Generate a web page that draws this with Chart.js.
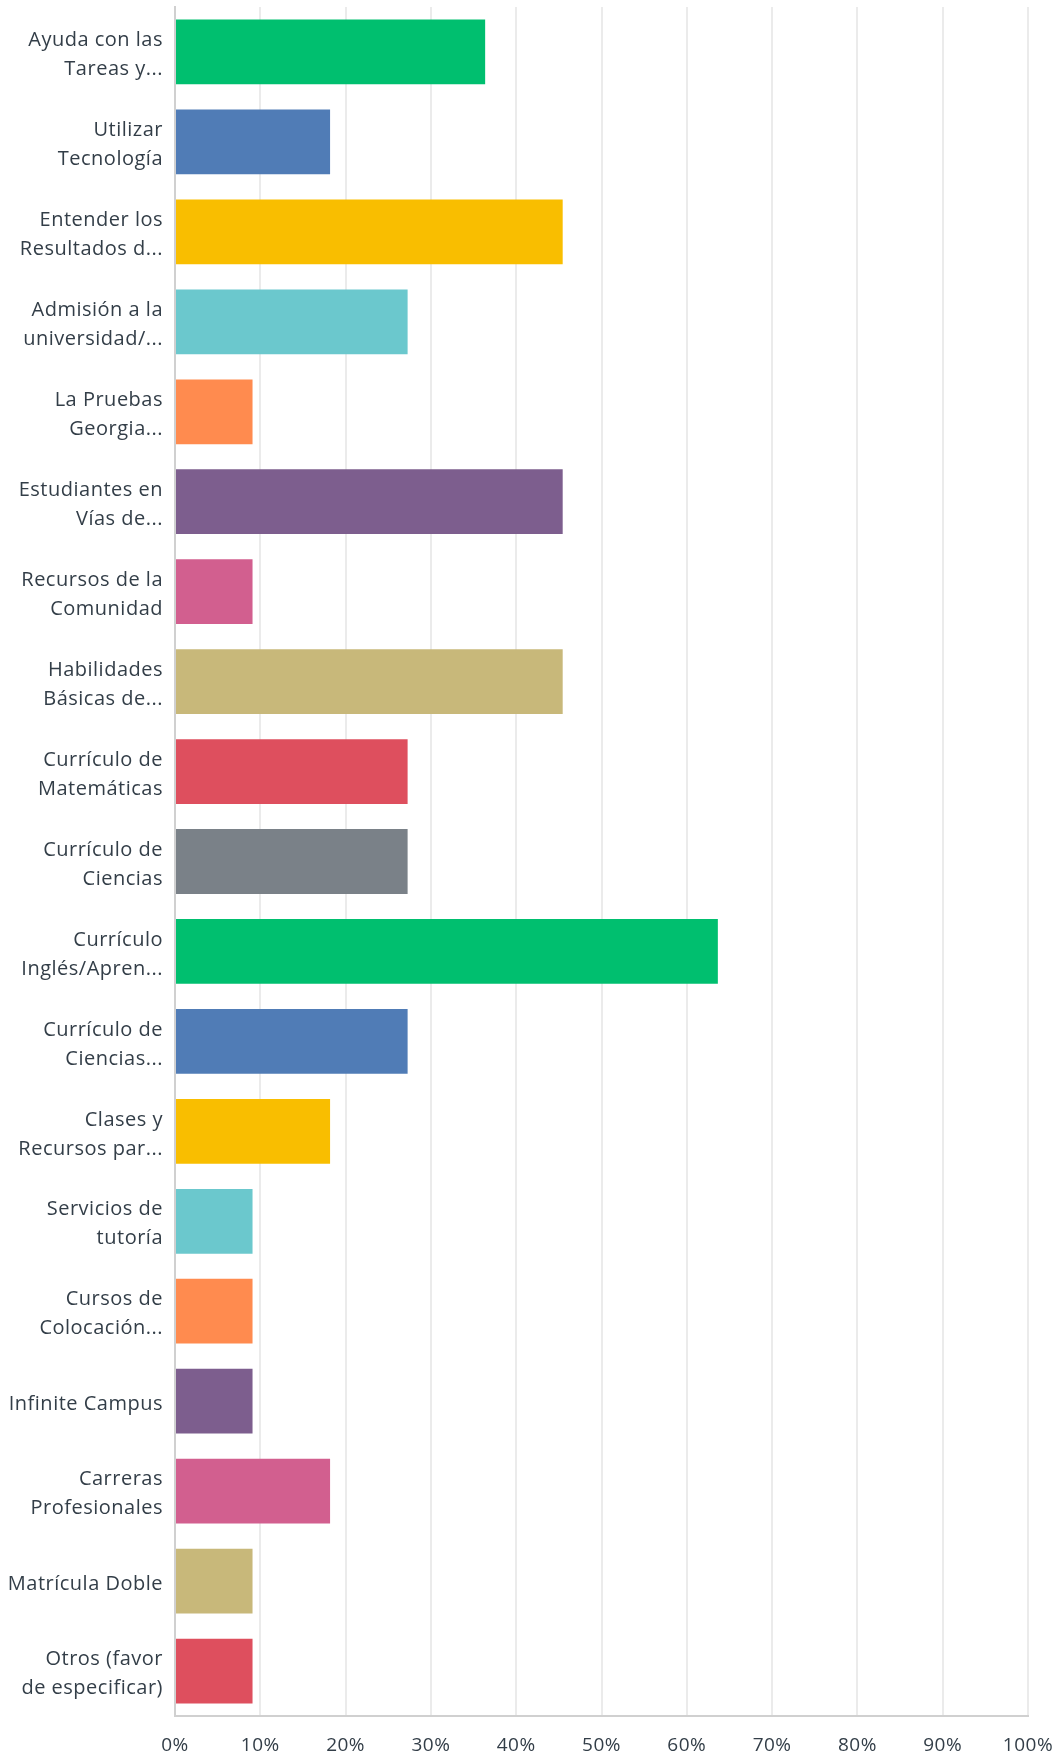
<!DOCTYPE html>
<html>
<head>
<meta charset="utf-8">
<script src="https://cdn.jsdelivr.net/npm/chart.js@4.4.0/dist/chart.umd.min.js"></script>
<style>
  html, body { margin: 0; padding: 0; background: #fff; }
  #wrap { width: 1052px; height: 1759px; }
</style>
</head>
<body>
<div id="wrap"><canvas id="surveyBarChart"></canvas></div>
<script>
// answer choices (as shown, truncated like the survey tool does)
const categories = [
  ['Ayuda con las', 'Tareas y...'],
  ['Utilizar', 'Tecnología'],
  ['Entender los', 'Resultados d...'],
  ['Admisión a la', 'universidad/...'],
  ['La Pruebas', 'Georgia...'],
  ['Estudiantes en', 'Vías de...'],
  ['Recursos de la', 'Comunidad'],
  ['Habilidades', 'Básicas de...'],
  ['Currículo de', 'Matemáticas'],
  ['Currículo de', 'Ciencias'],
  ['Currículo', 'Inglés/Apren...'],
  ['Currículo de', 'Ciencias...'],
  ['Clases y', 'Recursos par...'],
  ['Servicios de', 'tutoría'],
  ['Cursos de', 'Colocación...'],
  'Infinite Campus',
  ['Carreras', 'Profesionales'],
  'Matrícula Doble',
  ['Otros (favor', 'de especificar)']
];

// percent of respondents
const percentages = [
  36.36, 18.18, 45.45, 27.27, 9.09, 45.45, 9.09, 45.45, 27.27, 27.27,
  63.64, 27.27, 18.18, 9.09, 9.09, 9.09, 18.18, 9.09, 9.09
];

const palette = [
  '#00BF6F', '#507CB6', '#F9BE00', '#6BC8CD', '#FF8B4F',
  '#7D5E8E', '#D25F8F', '#C8B87A', '#DE4F5E', '#7A8188'
];
const barColors = categories.map((c, i) => palette[i % palette.length]);

const xTickValues = [0, 10, 20, 30, 40, 50, 60, 70, 80, 90, 100];

const textColor = '#333E48';
const fontFamily = '"Open Sans", "Noto Sans", sans-serif';

const spacing = {
  id: 'spacing',
  beforeDraw(chart) {
    chart.ctx.letterSpacing = '0.5px';
  }
};

const ctx = document.getElementById('surveyBarChart').getContext('2d');

new Chart(ctx, {
  type: 'bar',
  data: {
    labels: categories,
    datasets: [{
      data: percentages,
      backgroundColor: barColors,
      borderWidth: 0,
      barPercentage: 0.72,
      categoryPercentage: 1.0,
    }],
  },
  options: {
    indexAxis: 'y',
    responsive: true,
    maintainAspectRatio: false,
    animation: false,
    layout: { padding: { top: 7, left: 0, right: 24, bottom: 0 } },
    plugins: {
      legend: { display: false },
      tooltip: { enabled: false },
    },
    scales: {
      x: {
        min: 0,
        max: 100,
        afterFit: (scale) => {
          scale.height = 43;
          scale.paddingLeft = 0;
          scale.paddingRight = 0;
        },
        afterBuildTicks: (scale) => {
          scale.ticks = xTickValues.map(v => ({ value: v }));
        },
        ticks: {
          callback: (v) => v + '%',
          color: textColor,
          padding: 18,
          maxRotation: 0,
          font: { family: fontFamily, size: 19, lineHeight: 1.2 },
        },
        grid: {
          color: '#EBEBEB',
          lineWidth: 2,
          drawTicks: false,
        },
        border: { color: '#D0D0D0', width: 2 },
      },
      y: {
        afterFit: (scale) => {
          scale.width = 175;
          scale.paddingTop = 0;
          scale.paddingBottom = 0;
        },
        ticks: {
          color: textColor,
          padding: 12,
          labelOffset: 3,
          font: { family: fontFamily, size: 20, lineHeight: 1.45 },
        },
        grid: { display: false, drawTicks: false },
        border: { color: '#D0D0D0', width: 2 },
      },
    },
  },
  plugins: [spacing],
});
</script>
</body>
</html>
